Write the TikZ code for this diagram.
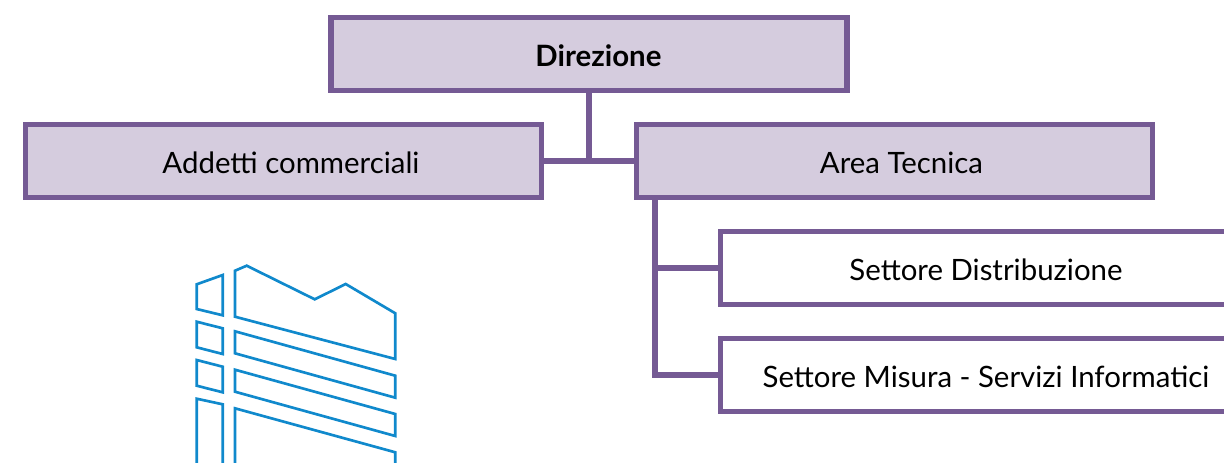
\documentclass[tikz,border=0pt]{standalone}
\usepackage{fontspec}
\setmainfont{Lato}
\definecolor{purp}{HTML}{755A94}
\definecolor{lilac}{HTML}{D5CCDE}
\definecolor{bld}{HTML}{1089CC}
\begin{document}
\begin{tikzpicture}[x=0.75pt,y=-0.75pt,
  orgbox/.style={draw=purp,line width=4.1pt,rectangle,inner sep=0pt,text=black,font=\fontsize{22.05}{26}\selectfont,text height=21.2pt,text depth=3pt},
  headbox/.style={orgbox,fill=lilac,minimum width=387pt,minimum height=54.75pt},
  subbox/.style={orgbox,fill=white,minimum width=398.25pt,minimum height=54.75pt},
  link/.style={draw=purp,line width=4.1pt},
  bldg/.style={draw=bld,line width=2pt,line join=miter}]
\useasboundingbox (0,0) rectangle (1224,462);
\clip (0,0) rectangle (1224,462);
\node[headbox] (dir) at (589,54) {\hspace*{14.2pt}\textbf{Direzione}};
\node[headbox] (add) at (283.5,161) {\hspace*{11.2pt}Addetti commerciali};
\node[headbox] (area) at (894.5,161) {\hspace*{10.5pt}Area Tecnica};
\node[subbox] (dist) at (986,268) {Settore Distribuzione};
\node[subbox] (mis) at (986,375) {Settore Misura - Servizi Informatici};
\coordinate (stem) at (655,197.5);
\coordinate (join) at (589,161);
\draw[link] (add.east) -- (area.west);
\draw[link] (dir.south) -- (join);
\draw[link] (stem) |- (dist.west);
\draw[link] (stem) |- (mis.west);
\draw[bldg] (196.7,284.3)--(222.7,275)--(222.7,315.3)--(196.7,309)--cycle;
\draw[bldg] (235,270.7)--(246.7,265.7)--(314.7,299.3)--(345.7,284)--(395.3,313.3)--(395.3,359)--(235,316.7)--cycle;
\draw[bldg] (196.7,321.7)--(222.7,328.3)--(222.7,354)--(196.7,347.3)--cycle;
\draw[bldg] (235,331.3)--(395.3,375.7)--(395.3,397.7)--(235,353.3)--cycle;
\draw[bldg] (196.7,360)--(222.7,366.7)--(222.7,392.3)--(196.7,385.7)--cycle;
\draw[bldg] (235,369.7)--(395.3,414)--(395.3,436)--(235,391.7)--cycle;
\draw[bldg] (196.7,470)--(196.7,398.7)--(222.7,404.3)--(222.7,470);
\draw[bldg] (235,470)--(235,408.3)--(395.3,452.3)--(395.3,470);
\end{tikzpicture}
\end{document}
